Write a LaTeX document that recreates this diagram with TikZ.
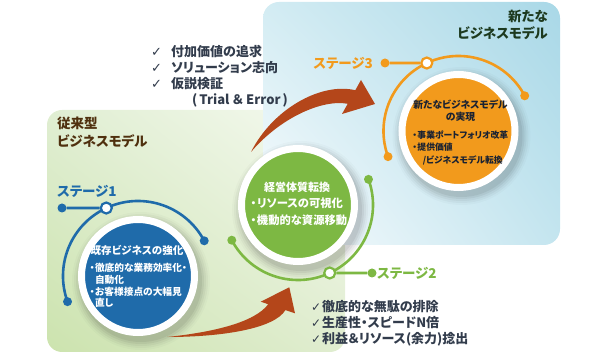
\documentclass[tikz,border=0pt]{standalone}
\usepackage{fontspec}
\setmainfont{Noto Sans CJK JP}[RawFeature=+palt]
\newfontfamily\symf{DejaVu Sans}
\usetikzlibrary{calc,shadings}
\definecolor{s1}{HTML}{1F6BAA}
\definecolor{s2}{HTML}{7DB843}
\definecolor{s3}{HTML}{F29A1C}
\definecolor{arrowc}{HTML}{B4461A}
\definecolor{brownt}{HTML}{4F300E}
\definecolor{greent}{HTML}{1D3A1F}
\definecolor{chk}{HTML}{323C4C}
\definecolor{navyt}{HTML}{1A2232}
\definecolor{gA}{HTML}{CCE3AE}
\definecolor{gB}{HTML}{E0EED2}
\definecolor{gC}{HTML}{E0EDD0}
\definecolor{gD}{HTML}{F6FAF1}
\definecolor{bA}{HTML}{FBFDFE}
\definecolor{bB}{HTML}{D3ECF3}
\definecolor{bC}{HTML}{C4E5EF}
\definecolor{bD}{HTML}{A9D8E7}
\newcommand\fsz[2]{\fontsize{#1}{#2}\selectfont}
\newcommand\bu{\makebox[0.6em][c]{・}}
\newcommand\ckm{\makebox[20pt][l]{\symf\bfseries\fontsize{13}{13}\selectfont ✓}}
\newcommand\ckb{\makebox[11pt][l]{\symf\bfseries\fontsize{12}{12}\selectfont ✓}}
\tikzset{
  ring/.style={circle, draw=white, line width=7pt, minimum size=113pt, inner sep=0pt},
  arcline/.style={line width=2.6pt},
  enddot/.style={circle, inner sep=0pt, minimum size=9pt},
  marker/.style={circle, fill=white, line width=2.2pt, minimum size=11pt, inner sep=0pt},
  stagelbl/.style={font=\fsz{13.5}{15}\bfseries, inner sep=0pt},
  intext/.style={text=white, inner sep=0pt, align=left},
  checktext/.style={anchor=west, align=left, text=chk, font=\fsz{13}{16}\bfseries, inner sep=0pt},
  arrowfill/.style={fill=arrowc}
}
\begin{document}
\begin{tikzpicture}[x=1pt,y=1pt]
\useasboundingbox (0,0) rectangle (600,356);
% panels
\shade[rounded corners=15pt, lower left=gA, upper left=gB, lower right=gC, upper right=gD] (47,4) rectangle (345,246);
\shade[rounded corners=16pt, lower left=bA, upper left=bB, lower right=bC, upper right=bD] (263,111) rectangle (560,354);
% centres
\coordinate (o1) at (138,80);
\coordinate (o2) at (298,151);
\coordinate (o3) at (458.5,225);
% shadows
\foreach \p in {o1,o2,o3}{
  \foreach \rr/\op in {69/0.02,67/0.03,65/0.04,63/0.05,61/0.06}{
    \fill[black,opacity=\op] ($(\p)+(3,-5)$) circle[radius=\rr];
  }
}
% arrows
\fill[arrowfill] (167,19) .. controls (215,24) and (255,34) .. (268.2,51.75) -- (260.7,54.3) -- (289.3,68.7) -- (295,42.7) -- (285.4,45.95) .. controls (275,28) and (225,19) .. (167,19) -- cycle;
\fill[arrowfill] (251,204) .. controls (272,246) and (320,274) .. (355.3,265.8) -- (361,276) -- (375,252) -- (342,242) -- (347.7,252.2) .. controls (322,257) and (280,238) .. (251,204) -- cycle;
% circles
\node[ring, fill=s1] (c1) at (o1) {};
\node[ring, fill=s2] (c2) at (o2) {};
\node[ring, fill=s3] (c3) at (o3) {};
% arcs
\draw[arcline, s1] ($(o1)+(28:75)$) arc[start angle=28, end angle=200, radius=75];
\draw[arcline, s2] ($(o2)+(208:75)$) arc[start angle=208, end angle=380, radius=75];
\draw[arcline, s3] ($(o3)+(28:75)$) arc[start angle=28, end angle=200, radius=75];
% stage 1 dots
\node[enddot, fill=s1] (d1a) at ($(o1)+(28:75)$) {};
\node[enddot, fill=s1] (d1b) at ($(o1)+(200:75)$) {};
\node[enddot, fill=s1] (d1c) at (62,148) {};
\node[marker, draw=s1] (m1) at ($(o1)+(115:75)$) {};
\draw[arcline, s1] (m1) -- (d1c);
% stage 2 dots
\node[enddot, fill=s2] (d2a) at ($(o2)+(208:75)$) {};
\node[enddot, fill=s2] (d2b) at ($(o2)+(20:75)$) {};
\node[enddot, fill=s2] (d2c) at (372,83) {};
\node[marker, draw=s2] (m2) at ($(o2)+(295:75)$) {};
\draw[arcline, s2] (m2) -- (d2c);
% stage 3 dots
\node[enddot, fill=s3] (d3a) at ($(o3)+(28:75)$) {};
\node[enddot, fill=s3] (d3b) at ($(o3)+(200:75)$) {};
\node[enddot, fill=s3] (d3c) at (385,293) {};
\node[marker, draw=s3] (m3) at ($(o3)+(115:75)$) {};
\draw[arcline, s3] (m3) -- (d3c);
% stage labels
\node[stagelbl, text=s1, anchor=west] (l1) at (57,165) {ステージ1};
\node[stagelbl, text=s2, anchor=west] (l2) at (377,83) {ステージ2};
\node[stagelbl, text=s3, anchor=east] (l3) at (373,293) {ステージ3};
% titles
\node[anchor=west, align=left, text=brownt, font=\fsz{13.5}{18}\bfseries, inner sep=0pt] (tOld) at (57,224) {従来型\\ビジネスモデル};
\node[anchor=east, align=right, text=greent, font=\fsz{13.5}{17}\bfseries, inner sep=0pt] (tNew) at (548,331.5) {新たな\\ビジネスモデル};
% circle texts
\node[intext, font=\fsz{10.5}{12}\bfseries] (h1) at (137,106) {既存ビジネスの強化};
\node[intext, font=\fsz{9.7}{11.7}\bfseries, anchor=west] (b1) at (89,70.5) {\bu 徹底的な業務効率化・\\\hspace*{0.6em}自動化\\\bu お客様接点の大幅見\\\hspace*{0.6em}直し};
\node[intext, font=\fsz{11}{13}\bfseries] (h2) at (297,169) {経営体質転換};
\node[intext, font=\fsz{11.3}{16.5}\bfseries, anchor=west] (b2) at (250,144.3) {\bu リソースの可視化\\\bu 機動的な資源移動};
\node[intext, text=navyt, align=center, font=\fsz{9.8}{11.5}\bfseries] (h3) at (460.5,245.5) {新たなビジネスモデル\\の実現};
\node[intext, text=navyt, font=\fsz{8.8}{12.5}\bfseries, anchor=west] (b3) at (412,208.5) {\bu 事業ポートフォリオ改革\\\bu 提供価値\\\hspace*{1.2em}/ビジネスモデル転換};
% checklists
\node[checktext] (cl1) at (151,280) {\ckm 付加価値の追求\\\ckm ソリューション志向\\\ckm 仮説検証\\\hspace*{41pt}(\hspace{2pt}Trial\hspace{3pt}＆\hspace{3pt}Error\hspace{2pt})};
\node[checktext] (cl2) at (311,32.5) {\ckb 徹底的な無駄の排除\\\ckb 生産性・スピードN倍\\\ckb 利益＆リソース(余力)捻出};
\end{tikzpicture}
\end{document}
